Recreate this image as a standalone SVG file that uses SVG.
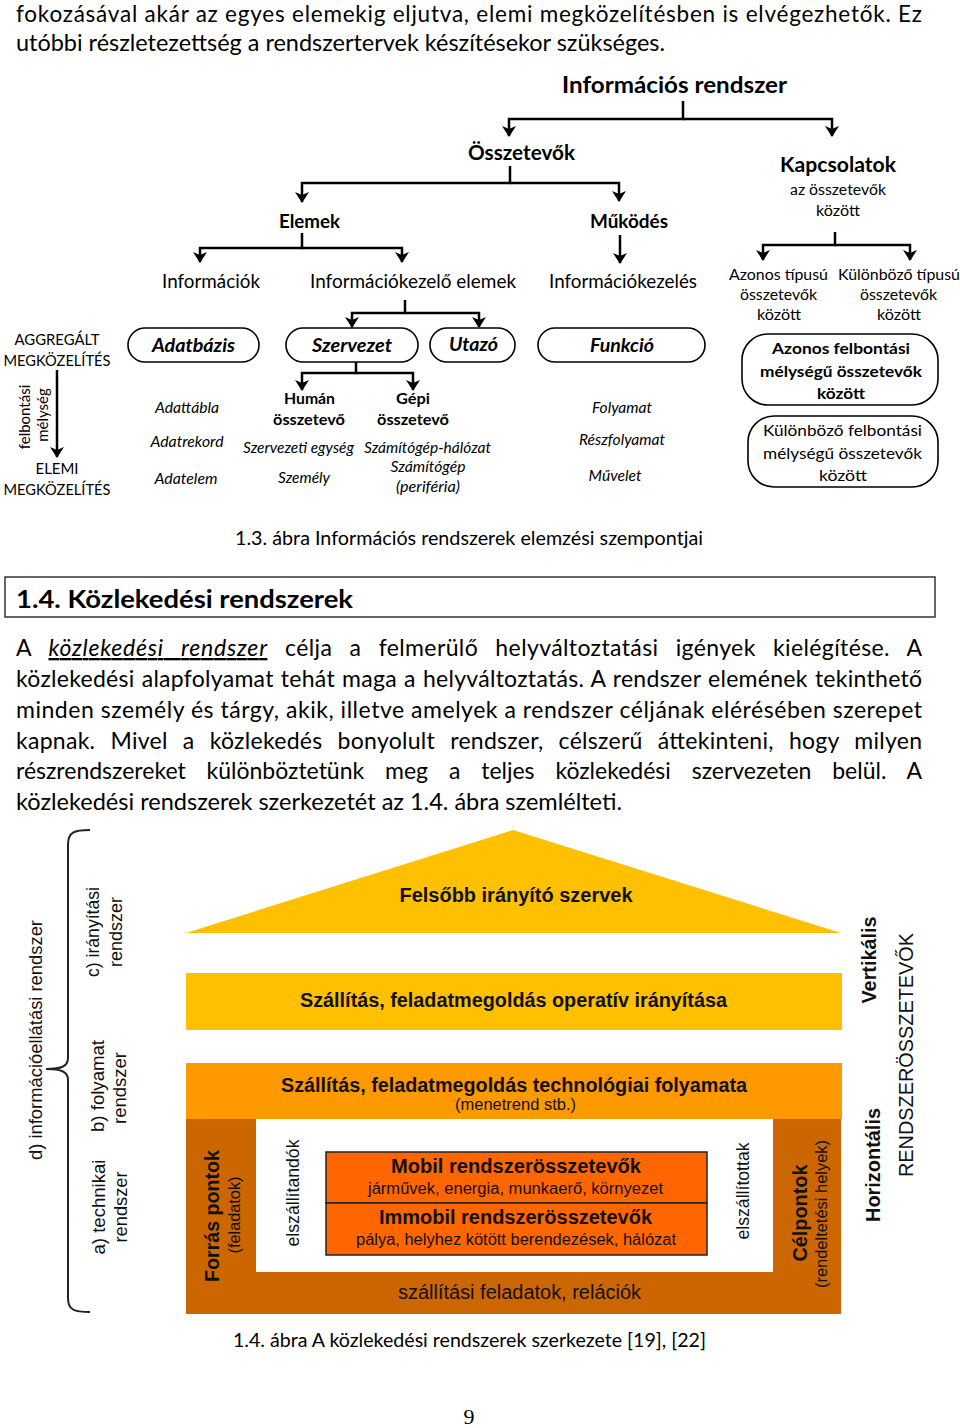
<svg xmlns="http://www.w3.org/2000/svg" width="960" height="1428" viewBox="0 0 960 1428">
<style>
.c{font-family:Lato,"Open Sans","DejaVu Sans",sans-serif;fill:#000}
.b{font-weight:bold}
.i{font-style:italic}
.m{text-anchor:middle}
.a{font-family:"Liberation Sans",Arial,sans-serif;fill:#111}
.ln{fill:none;stroke:#000;stroke-width:2.5}
.pill{fill:#fff;stroke:#000;stroke-width:1.6}
</style>
<defs>
<marker id="ah" viewBox="0 0 11 14" refX="10" refY="7" markerWidth="11" markerHeight="14" markerUnits="userSpaceOnUse" orient="auto"><path d="M0,0 L11,7 L0,14 L3,7 z" fill="#000"/></marker>
</defs>
<rect width="960" height="1428" fill="#fff"/>

<g id="text-top">
<text class="c" x="16" y="22" font-size="22.5" textLength="906" lengthAdjust="spacing">fokozásával akár az egyes elemekig eljutva, elemi megközelítésben is elvégezhetők. Ez</text>
<text class="c" x="16" y="51" font-size="23" textLength="649" lengthAdjust="spacingAndGlyphs">utóbbi részletezettség a rendszertervek készítésekor szükséges.</text>
</g>

<g id="connectors">
<path class="ln" d="M683,101 V119 H509 V136" marker-end="url(#ah)"/>
<path class="ln" d="M683,119 H832 V136" marker-end="url(#ah)"/>
<path class="ln" d="M510,166 V183 H302 V202" marker-end="url(#ah)"/>
<path class="ln" d="M510,183 H619 V201" marker-end="url(#ah)"/>
<path class="ln" d="M302,233 V248 H200 V262" marker-end="url(#ah)"/>
<path class="ln" d="M302,248 H402 V262" marker-end="url(#ah)"/>
<path class="ln" d="M620,235 V263" marker-end="url(#ah)"/>
<path class="ln" d="M835,232 V245 H763 V260" marker-end="url(#ah)"/>
<path class="ln" d="M835,245 H910 V260" marker-end="url(#ah)"/>
<path class="ln" d="M405,300 V313 H352 V327" marker-end="url(#ah)"/>
<path class="ln" d="M405,313 H479 V327" marker-end="url(#ah)"/>
<path class="ln" d="M356,362 V373 H302 V390" marker-end="url(#ah)"/>
<path class="ln" d="M356,373 H413 V390" marker-end="url(#ah)"/>
<path class="ln" d="M57,370 V457" marker-end="url(#ah)"/>
</g>

<g id="n-inforendszer"><text class="c b m" x="674.5" y="93" font-size="23" textLength="225" lengthAdjust="spacingAndGlyphs">Információs rendszer</text></g>
<g id="n-osszetevok"><text class="c b m" x="521.5" y="160" font-size="21" textLength="107" lengthAdjust="spacingAndGlyphs">Összetevők</text></g>
<g id="n-kapcsolatok">
<text class="c b m" x="838" y="172" font-size="21" textLength="116" lengthAdjust="spacingAndGlyphs">Kapcsolatok</text>
<text class="c m" x="838" y="195" font-size="15.5" textLength="96" lengthAdjust="spacingAndGlyphs">az összetevők</text>
<text class="c m" x="838" y="216" font-size="15.5" textLength="44" lengthAdjust="spacingAndGlyphs">között</text>
</g>
<g id="n-elemek"><text class="c b m" x="309.5" y="228" font-size="19" textLength="61" lengthAdjust="spacingAndGlyphs">Elemek</text></g>
<g id="n-mukodes"><text class="c b m" x="629" y="228" font-size="19" textLength="78" lengthAdjust="spacingAndGlyphs">Működés</text></g>
<g id="n-informaciok"><text class="c m" x="211" y="288" font-size="18.5" textLength="98" lengthAdjust="spacingAndGlyphs">Információk</text></g>
<g id="n-infokezelo-elemek"><text class="c m" x="413" y="288" font-size="18.5" textLength="206" lengthAdjust="spacingAndGlyphs">Információkezelő elemek</text></g>
<g id="n-infokezeles"><text class="c m" x="623" y="288" font-size="18.5" textLength="148" lengthAdjust="spacingAndGlyphs">Információkezelés</text></g>
<g id="n-azonos-tipusu">
<text class="c m" x="778.5" y="280" font-size="15.5" textLength="99" lengthAdjust="spacingAndGlyphs">Azonos típusú</text>
<text class="c m" x="778.5" y="300" font-size="15.5" textLength="77" lengthAdjust="spacingAndGlyphs">összetevők</text>
<text class="c m" x="779" y="320" font-size="15.5" textLength="44" lengthAdjust="spacingAndGlyphs">között</text>
</g>
<g id="n-kulonbozo-tipusu">
<text class="c m" x="899" y="280" font-size="15.5" textLength="122" lengthAdjust="spacingAndGlyphs">Különböző típusú</text>
<text class="c m" x="898.5" y="300" font-size="15.5" textLength="77" lengthAdjust="spacingAndGlyphs">összetevők</text>
<text class="c m" x="899" y="320" font-size="15.5" textLength="44" lengthAdjust="spacingAndGlyphs">között</text>
</g>

<g id="n-depth">
<text class="c m" x="57" y="345" font-size="15.5" textLength="85" lengthAdjust="spacingAndGlyphs">AGGREGÁLT</text>
<text class="c m" x="57" y="366" font-size="15.5" textLength="107" lengthAdjust="spacingAndGlyphs">MEGKÖZELÍTÉS</text>
<text class="c m" transform="translate(30,417) rotate(-90)" font-size="15">felbontási</text>
<text class="c m" transform="translate(48,415) rotate(-90)" font-size="15">mélység</text>
<text class="c m" x="57" y="474" font-size="15.5" textLength="43" lengthAdjust="spacingAndGlyphs">ELEMI</text>
<text class="c m" x="57" y="495" font-size="15.5" textLength="107" lengthAdjust="spacingAndGlyphs">MEGKÖZELÍTÉS</text>
</g>

<g id="n-adatbazis">
<rect class="pill" x="128" y="328" width="131" height="34" rx="17"/>
<text class="c b i m" x="193.5" y="352" font-size="19" textLength="83" lengthAdjust="spacingAndGlyphs">Adatbázis</text>
</g>
<g id="n-szervezet">
<rect class="pill" x="286" y="328" width="132" height="34" rx="17"/>
<text class="c b i m" x="352" y="352" font-size="19" textLength="80" lengthAdjust="spacingAndGlyphs">Szervezet</text>
</g>
<g id="n-utazo">
<rect class="pill" x="430" y="328" width="85" height="34" rx="17"/>
<text class="c b i m" x="473.5" y="351" font-size="19" textLength="49" lengthAdjust="spacingAndGlyphs">Utazó</text>
</g>
<g id="n-funkcio">
<rect class="pill" x="538" y="328" width="167" height="34" rx="17"/>
<text class="c b i m" x="622" y="352" font-size="19" textLength="64" lengthAdjust="spacingAndGlyphs">Funkció</text>
</g>
<g id="n-azonos-felbontasi">
<rect class="pill" x="742" y="334" width="196" height="71" rx="26"/>
<text class="c b m" x="841" y="354" font-size="16" textLength="138" lengthAdjust="spacingAndGlyphs">Azonos felbontási</text>
<text class="c b m" x="841" y="377" font-size="16" textLength="162" lengthAdjust="spacingAndGlyphs">mélységű összetevők</text>
<text class="c b m" x="841" y="399" font-size="16" textLength="48" lengthAdjust="spacingAndGlyphs">között</text>
</g>
<g id="n-kulonbozo-felbontasi">
<rect class="pill" x="748" y="416" width="190" height="71" rx="26"/>
<text class="c m" x="842.5" y="436" font-size="16" textLength="159" lengthAdjust="spacingAndGlyphs">Különböző felbontási</text>
<text class="c m" x="842.5" y="459" font-size="16" textLength="159" lengthAdjust="spacingAndGlyphs">mélységű összetevők</text>
<text class="c m" x="843" y="481" font-size="16" textLength="48" lengthAdjust="spacingAndGlyphs">között</text>
</g>

<g id="n-human">
<text class="c b m" x="309.5" y="404" font-size="15.5" textLength="51" lengthAdjust="spacingAndGlyphs">Humán</text>
<text class="c b m" x="309" y="425" font-size="15.5" textLength="72" lengthAdjust="spacingAndGlyphs">összetevő</text>
</g>
<g id="n-gepi">
<text class="c b m" x="413" y="404" font-size="15.5" textLength="34" lengthAdjust="spacingAndGlyphs">Gépi</text>
<text class="c b m" x="413" y="425" font-size="15.5" textLength="72" lengthAdjust="spacingAndGlyphs">összetevő</text>
</g>
<g id="n-items">
<text class="c i m" x="187" y="413" font-size="14.5" textLength="64" lengthAdjust="spacingAndGlyphs">Adattábla</text>
<text class="c i m" x="187" y="447" font-size="14.5" textLength="73" lengthAdjust="spacingAndGlyphs">Adatrekord</text>
<text class="c i m" x="186" y="484" font-size="14.5" textLength="63" lengthAdjust="spacingAndGlyphs">Adatelem</text>
<text class="c i m" x="298.5" y="453" font-size="14.5" textLength="111" lengthAdjust="spacingAndGlyphs">Szervezeti egység</text>
<text class="c i m" x="304" y="483" font-size="14.5" textLength="52" lengthAdjust="spacingAndGlyphs">Személy</text>
<text class="c i m" x="427.5" y="453" font-size="14.5" textLength="127" lengthAdjust="spacingAndGlyphs">Számítógép-hálózat</text>
<text class="c i m" x="428" y="472" font-size="14.5" textLength="75" lengthAdjust="spacingAndGlyphs">Számítógép</text>
<text class="c i m" x="428" y="492" font-size="14.5" textLength="64" lengthAdjust="spacingAndGlyphs">(periféria)</text>
<text class="c i m" x="622" y="413" font-size="14.5" textLength="60" lengthAdjust="spacingAndGlyphs">Folyamat</text>
<text class="c i m" x="622" y="445" font-size="14.5" textLength="86" lengthAdjust="spacingAndGlyphs">Részfolyamat</text>
<text class="c i m" x="615" y="481" font-size="14.5" textLength="53" lengthAdjust="spacingAndGlyphs">Művelet</text>
</g>

<g id="caption-13"><text class="c m" x="469" y="545" font-size="18.5" textLength="468" lengthAdjust="spacingAndGlyphs">1.3. ábra Információs rendszerek elemzési szempontjai</text></g>

<g id="heading">
<rect x="5" y="577" width="930" height="40" fill="#fff" stroke="#333" stroke-width="1.5"/>
<text class="c b" x="16" y="608" font-size="25" textLength="337" lengthAdjust="spacingAndGlyphs">1.4. Közlekedési rendszerek</text>
</g>

<g id="paragraph">
<text class="c" x="16" y="656" font-size="23" textLength="906" lengthAdjust="spacing" word-spacing="11">A <tspan class="i" text-decoration="underline" letter-spacing="0.4">közlekedési rendszer</tspan> célja a felmerülő helyváltoztatási igények kielégítése. A</text>
<text class="c" x="16" y="687" font-size="23" textLength="906" lengthAdjust="spacing" word-spacing="1">közlekedési alapfolyamat tehát maga a helyváltoztatás. A rendszer elemének tekinthető</text>
<text class="c" x="16" y="718" font-size="23" textLength="906" lengthAdjust="spacing" word-spacing="0">minden személy és tárgy, akik, illetve amelyek a rendszer céljának elérésében szerepet</text>
<text class="c" x="16" y="749" font-size="23" textLength="906" lengthAdjust="spacing" word-spacing="9">kapnak. Mivel a közlekedés bonyolult rendszer, célszerű áttekinteni, hogy milyen</text>
<text class="c" x="16" y="779" font-size="23" textLength="906" lengthAdjust="spacing" word-spacing="15">részrendszereket különböztetünk meg a teljes közlekedési szervezeten belül. A</text>
<text class="c" x="16" y="810" font-size="23" textLength="606" lengthAdjust="spacingAndGlyphs">közlekedési rendszerek szerkezetét az 1.4. ábra szemlélteti.</text>
</g>

<g id="bracket">
<path d="M90,830 C74,830 68,832 68,845 V1058 C68,1066 62,1069 46,1069 C62,1069 68,1072 68,1080 V1298 C68,1310 74,1312 90,1312" fill="none" stroke="#222" stroke-width="2"/>
</g>
<g id="n-left-labels">
<text class="a m" transform="translate(42,1040) rotate(-90)" font-size="18.5" textLength="240" lengthAdjust="spacingAndGlyphs">d) információellátási rendszer</text>
<text class="a m" transform="translate(99,932) rotate(-90)" font-size="18" textLength="90" lengthAdjust="spacingAndGlyphs">c) irányítási</text>
<text class="a m" transform="translate(122,932) rotate(-90)" font-size="18" textLength="70" lengthAdjust="spacingAndGlyphs">rendszer</text>
<text class="a m" transform="translate(104,1086) rotate(-90)" font-size="18" textLength="92" lengthAdjust="spacingAndGlyphs">b) folyamat</text>
<text class="a m" transform="translate(126,1088) rotate(-90)" font-size="18" textLength="72" lengthAdjust="spacingAndGlyphs">rendszer</text>
<text class="a m" transform="translate(105,1207) rotate(-90)" font-size="18" textLength="95" lengthAdjust="spacingAndGlyphs">a) technikai</text>
<text class="a m" transform="translate(127,1207) rotate(-90)" font-size="18" textLength="71" lengthAdjust="spacingAndGlyphs">rendszer</text>
</g>

<g id="n-roof">
<polygon points="186,933 513,830 841,933" fill="#FFC000"/>
<text class="a b m" x="516" y="902" font-size="20" textLength="233" lengthAdjust="spacingAndGlyphs">Felsőbb irányító szervek</text>
</g>
<g id="n-operativ">
<rect x="186" y="973" width="656" height="57" fill="#FFC000"/>
<text class="a b m" x="513.5" y="1007" font-size="20" textLength="427" lengthAdjust="spacingAndGlyphs">Szállítás, feladatmegoldás operatív irányítása</text>
</g>
<g id="n-technologiai">
<rect x="186" y="1063" width="656" height="56" fill="#FF9900"/>
<text class="a b m" x="514" y="1092" font-size="20" textLength="466" lengthAdjust="spacingAndGlyphs">Szállítás, feladatmegoldás technológiai folyamata</text>
<text class="a m" x="515.5" y="1110" font-size="16.5" textLength="121" lengthAdjust="spacingAndGlyphs">(menetrend stb.)</text>
</g>
<g id="n-szallitasi">
<path d="M186,1119 H841 V1314 H186 Z M256,1119 V1272 H773 V1119 Z" fill="#CC6600" fill-rule="evenodd"/>
<text class="a m" x="519.5" y="1299" font-size="20" textLength="243" lengthAdjust="spacingAndGlyphs">szállítási feladatok, relációk</text>
</g>
<g id="n-forras">
<text class="a b m" transform="translate(219,1216) rotate(-90)" font-size="20" textLength="132" lengthAdjust="spacingAndGlyphs">Forrás pontok</text>
<text class="a m" transform="translate(240,1215) rotate(-90)" font-size="16" textLength="77" lengthAdjust="spacingAndGlyphs">(feladatok)</text>
</g>
<g id="n-celpontok">
<text class="a b m" transform="translate(807,1213) rotate(-90)" font-size="20" textLength="97" lengthAdjust="spacingAndGlyphs">Célpontok</text>
<text class="a m" transform="translate(827,1214) rotate(-90)" font-size="16" textLength="148" lengthAdjust="spacingAndGlyphs">(rendeltetési helyek)</text>
</g>
<g id="n-elszallitandok"><text class="a m" transform="translate(299,1193) rotate(-90)" font-size="19" textLength="107" lengthAdjust="spacingAndGlyphs">elszállítandók</text></g>
<g id="n-elszallitottak"><text class="a m" transform="translate(749,1191) rotate(-90)" font-size="19" textLength="97" lengthAdjust="spacingAndGlyphs">elszállítottak</text></g>
<g id="n-mobil">
<rect x="326" y="1152" width="381" height="51" fill="#FF6600" stroke="#222" stroke-width="1.5"/>
<text class="a b m" x="516" y="1173" font-size="20" textLength="250" lengthAdjust="spacingAndGlyphs">Mobil rendszerösszetevők</text>
<text class="a m" x="515.5" y="1194" font-size="16" textLength="295" lengthAdjust="spacingAndGlyphs">járművek, energia, munkaerő, környezet</text>
</g>
<g id="n-immobil">
<rect x="326" y="1203" width="381" height="52" fill="#FF6600" stroke="#222" stroke-width="1.5"/>
<text class="a b m" x="515.5" y="1224" font-size="20" textLength="273" lengthAdjust="spacingAndGlyphs">Immobil rendszerösszetevők</text>
<text class="a m" x="516" y="1245" font-size="16" textLength="320" lengthAdjust="spacingAndGlyphs">pálya, helyhez kötött berendezések, hálózat</text>
</g>
<g id="n-right-labels">
<text class="a b m" transform="translate(876,960) rotate(-90)" font-size="20" textLength="87" lengthAdjust="spacingAndGlyphs">Vertikális</text>
<text class="a b m" transform="translate(880,1165) rotate(-90)" font-size="20" textLength="114" lengthAdjust="spacingAndGlyphs">Horizontális</text>
<text class="a m" transform="translate(913,1055) rotate(-90)" font-size="20" textLength="244" lengthAdjust="spacingAndGlyphs">RENDSZERÖSSZETEVŐK</text>
</g>

<g id="caption-14"><text class="c m" x="469.5" y="1347" font-size="18.5" textLength="473" lengthAdjust="spacingAndGlyphs">1.4. ábra A közlekedési rendszerek szerkezete [19], [22]</text></g>
<g id="page-number"><text x="469" y="1424" font-family="'Liberation Serif',serif" font-size="22" text-anchor="middle" fill="#000">9</text></g>
</svg>
